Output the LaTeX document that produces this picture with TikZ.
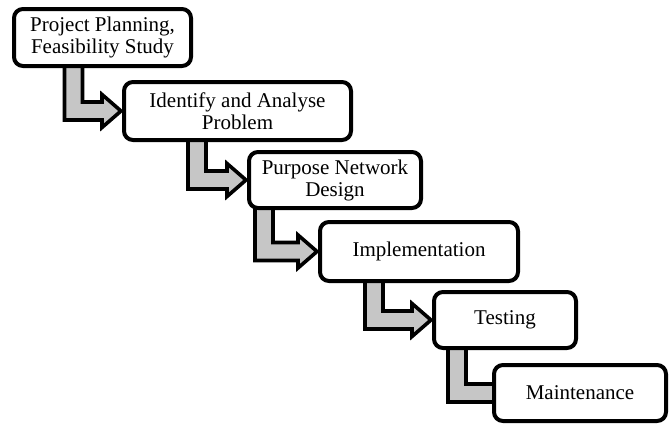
\documentclass[tikz,border=0pt]{standalone}
\usepackage{fontspec}
\setmainfont{Liberation Serif}
\usetikzlibrary{calc,backgrounds}
% bent arrow from the bottom of box #1 into the left side of box #2,
% shaft #3 from the left of #1, tip #4 beyond the left side of #2
\def\flowstep(#1)(#2)(#3)(#4){\draw[stepshaft] let \p1=(#1.south west), \p2=(#2.west) in
	(\x1+#3-9pt, \y1+8pt) -- (\x1+#3-9pt, \y2-9pt) -- (\x2+#4-19pt, \y2-9pt) -- (\x2+#4-19pt, \y2-16.5pt)
	-- (\x2+#4, \y2) -- (\x2+#4-19pt, \y2+16.5pt) -- (\x2+#4-19pt, \y2+9pt) -- (\x1+#3+9pt, \y2+9pt)
	-- (\x1+#3+9pt, \y1+8pt) -- cycle;}

\begin{document}
\begin{tikzpicture}[x=1pt, y=-1pt,
	stepbox/.style={draw, line width=4pt, rounded corners=9pt, fill=white, align=center,
		inner sep=0pt, font=\fontsize{21}{22}\selectfont},
	stepshaft/.style={draw, line width=3.6pt, fill=gray!45, line join=miter}]
			%%%%% START %%%%%
			\useasboundingbox (0,0) rectangle (670,426);
			
			\node[stepbox, minimum width=177, minimum height=57] (plan) at (102.5, 37.5) {Project Planning,\\Feasibility Study};
			\node[stepbox, minimum width=227, minimum height=58] (analyse) at (237.5, 111) {Identify and Analyse\\Problem};
			\node[stepbox, minimum width=172, minimum height=56] (design) at (335, 180) {Purpose Network\\Design};
			\node[stepbox, minimum width=198, minimum height=59] (implement) at (419, 251.5) {Implementation};
			\node[stepbox, minimum width=142, minimum height=56] (testing) at (505, 320) {Testing};
			\node[stepbox, minimum width=172, minimum height=56] (maintain) at (580, 393) {Maintenance};
			
			\begin{pgfonlayer}{background}
			\flowstep(plan)(analyse)(61.5pt)(-1pt)
			\flowstep(analyse)(design)(75pt)(-1pt)
			\flowstep(design)(implement)(17pt)(-1pt)
			\flowstep(implement)(testing)(56pt)(-1pt)
			\flowstep(testing)(maintain)(25pt)(26pt)
			\end{pgfonlayer}
			
			%%%%% END %%%%%
\end{tikzpicture}
\end{document}
